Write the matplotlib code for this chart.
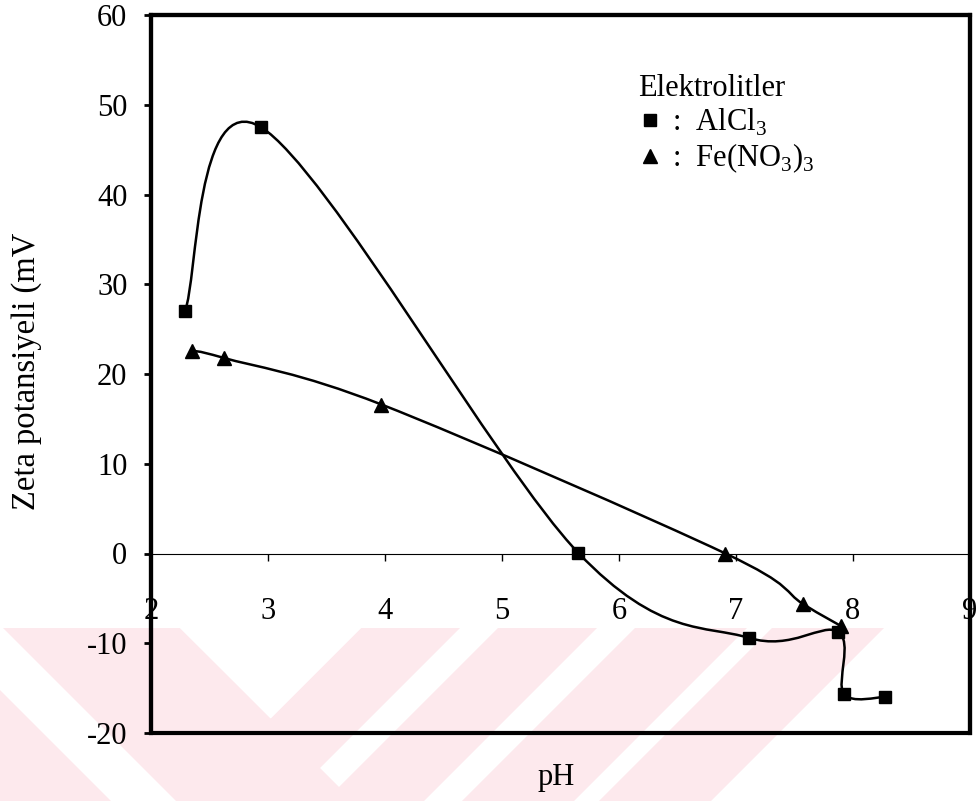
import numpy as np
import matplotlib
matplotlib.use("Agg")
import matplotlib.pyplot as plt
from matplotlib.path import Path
from matplotlib.patches import PathPatch, Rectangle, Polygon

plt.rcParams['font.family'] = ['Liberation Serif', 'DejaVu Serif']
plt.rcParams['axes.unicode_minus'] = False

# Veriler
al_ph = [2.29, 2.94, 5.65, 7.11, 7.87, 7.92, 8.27]
al_zeta = [27.0, 47.5, 0.1, -9.4, -8.7, -15.6, -16.0]
fe_ph = [2.35, 2.62, 3.97, 6.91, 7.57, 7.90]
fe_zeta = [22.6, 21.8, 16.6, 0.0, -5.6, -8.1]

x_ticks = [2, 3, 4, 5, 6, 7, 8, 9]
y_ticks = [-20, -10, 0, 10, 20, 30, 40, 50, 60]

W, H = 976, 801
fig = plt.figure(figsize=(W / 100, H / 100), dpi=100)
fig.patch.set_facecolor('white')


def px(x, y):
    return (x / W, 1 - y / H)


# arka plandaki soluk pembe filigran seritleri
pink = '#fde9ed'
top, bot = 628, 801
d = bot - top
stripes = []
for a, b in [(361, 460), (498, 597), (635, 747), (772, 884)]:
    stripes.append([(a, top), (b, top), (b - d, bot), (a - d, bot)])
# sol "V" kolu ve sol alt parca
stripes.append([(0, top), (180, top), (180 + d, bot), (0, bot)])
for s in stripes:
    fig.patches.append(Polygon([px(*p) for p in s], closed=True,
                               transform=fig.transFigure, facecolor=pink,
                               edgecolor='none', zorder=-5))
# V'nin ici ve sol alttaki beyaz bant
fig.patches.append(Polygon([px(180, top), px(361, top), px(271, 718)],
                           closed=True, transform=fig.transFigure,
                           facecolor='white', edgecolor='none', zorder=-4))
fig.patches.append(Polygon([px(0, 625), px(0, 690), px(111, bot), px(176, bot)],
                           closed=True, transform=fig.transFigure,
                           facecolor='white', edgecolor='none', zorder=-4))

ax = fig.add_axes([151 / W, 1 - 733 / H, (970 - 151) / W, (733 - 15) / H])
ax.set_facecolor('none')
ax.set_xlim(2, 9)
ax.set_ylim(-20, 60)


def smooth_path(xs, ys):
    # Excel tarzi yumusatilmis cizgi (Catmull-Rom -> Bezier), ekran uzayinda
    pts = ax.transData.transform(np.column_stack([xs, ys]))
    n = len(pts)
    verts = [pts[0]]
    codes = [Path.MOVETO]
    for i in range(n - 1):
        p0 = pts[i - 1] if i > 0 else pts[i]
        p1 = pts[i]
        p2 = pts[i + 1]
        p3 = pts[i + 2] if i + 2 < n else pts[i + 1]
        verts += [p1 + (p2 - p0) / 6, p2 - (p3 - p1) / 6, p2]
        codes += [Path.CURVE4] * 3
    verts = ax.transData.inverted().transform(np.array(verts))
    return Path(verts, codes)


ax.add_patch(PathPatch(smooth_path(al_ph, al_zeta), fill=False,
                       edgecolor='black', lw=1.8, zorder=2))
ax.add_patch(PathPatch(smooth_path(fe_ph, fe_zeta), fill=False,
                       edgecolor='black', lw=1.8, zorder=2))
h_al, = ax.plot(al_ph, al_zeta, 's', ms=8.5, color='black', zorder=3,
                clip_on=False)
h_fe, = ax.plot(fe_ph, fe_zeta, '^', ms=10, color='black', zorder=3,
                clip_on=False)

# x ekseni 0 cizgisinde, kutu ayrica
for side in ['left', 'top', 'right']:
    ax.spines[side].set_linewidth(3)
ax.spines['bottom'].set_position(('data', 0))
ax.spines['bottom'].set_linewidth(0.8)
ax.add_patch(Rectangle((0, 0), 1, 1, transform=ax.transAxes, fill=False,
                       lw=3, edgecolor='black', clip_on=False, zorder=4))

ax.set_xticks(x_ticks)
ax.set_yticks(y_ticks)
ax.tick_params(axis='x', direction='out', length=5, width=1, pad=26,
               labelsize=22)
ax.tick_params(axis='y', direction='out', length=5, width=2, pad=12,
               labelsize=22)

ax.legend([h_al, h_fe],
          [':  AlCl$_\\mathregular{3}$', ':  Fe(NO$_\\mathregular{3}$)$_\\mathregular{3}$'],
          title='Elektrolitler', frameon=False, loc='upper left',
          bbox_to_anchor=px(638, 74), bbox_transform=fig.transFigure,
          alignment='left', fontsize=22, title_fontsize=22,
          handlelength=0.8, handletextpad=0.3, borderpad=0,
          borderaxespad=0, labelspacing=0.12)

fig.text(*px(27, 510), 'Zeta potansiyeli (mV', rotation=90, ha='center',
         va='bottom', fontsize=23.5)
fig.text(*px(556, 778), 'pH', ha='center', va='center', fontsize=22)

fig.savefig('out.png', dpi=100)
